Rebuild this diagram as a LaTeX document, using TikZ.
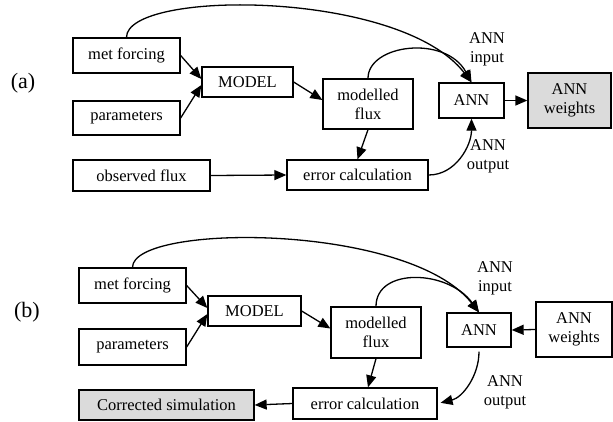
\documentclass[tikz,border=0pt]{standalone}
\usepackage{fontspec}
\setmainfont{Liberation Serif}
\usetikzlibrary{arrows.meta,calc}
\begin{document}
\begin{tikzpicture}[x=1pt,y=-1pt,
  box/.style={draw,line width=1.3pt,inner sep=0pt,align=center,font=\fontsize{16.5}{19}\selectfont},
  shaded/.style={box,fill=black!14},
  lbl/.style={inner sep=0pt,align=center,font=\fontsize{16.5}{19}\selectfont},
  panel/.style={inner sep=0pt,font=\fontsize{22}{24}\selectfont},
  conn/.style={line width=1.3pt,-{Triangle[length=12pt,width=10pt]}}]
\useasboundingbox (0,0) rectangle (613,421);
% ---------- panel (a)
\node[panel] (pa) at (23,83) {(a)};
\node[box,minimum width=107pt,minimum height=35pt] (mf1) at (126.5,55.5) {met forcing};
\node[box,minimum width=107pt,minimum height=34pt] (par1) at (126.5,118) {parameters};
\node[box,minimum width=91pt,minimum height=30pt] (mod1) at (247.5,82) {MODEL};
\node[box,minimum width=137pt,minimum height=31pt] (obs1) at (141.5,175.5) {observed flux};
\node[box,minimum width=141pt,minimum height=30pt] (err1) at (357.5,175) {error calculation};
\node[box,minimum width=90pt,minimum height=50pt] (flux1) at (368,104) {modelled\\flux};
\node[box,minimum width=65pt,minimum height=35pt] (ann1) at (471.5,100.5) {ANN};
\node[shaded,minimum width=83pt,minimum height=55pt] (w1) at (569.5,100.5) {ANN\\weights};
\node[lbl] (in1) at (487,49) {ANN\\input};
\node[lbl] (out1) at (488,156) {ANN\\output};
\draw[conn] (mf1.east) -- ($(mod1.west)+(0,-3)$);
\draw[conn] (par1.east) -- ($(mod1.west)+(0,3)$);
\draw[conn] (mod1.east) -- ($(flux1.west)+(0,-4)$);
\draw[conn] (flux1.south) -- (err1.north);
\draw[conn] (obs1.east) -- (err1.west);
\draw[conn] (ann1.east) -- (w1.west);
\draw[conn] (err1.east) .. controls +(27,0) and +(0,27) .. (ann1.south);
\draw[conn] (flux1.north) .. controls +(0,-34) and +(-26,-48) .. (ann1.north);
\draw[conn] (mf1.north) .. controls +(0,-48) and +(-71,-93) .. (ann1.north);
% ---------- panel (b)
\node[panel] (pb) at (27,312) {(b)};
\node[box,minimum width=107pt,minimum height=35pt] (mf2) at (132.5,285.5) {met forcing};
\node[box,minimum width=107pt,minimum height=36pt] (par2) at (132.5,347) {parameters};
\node[box,minimum width=93pt,minimum height=30pt] (mod2) at (254.5,311) {MODEL};
\node[shaded,minimum width=175pt,minimum height=30pt] (cs2) at (166.5,405) {Corrected simulation};
\node[box,minimum width=144pt,minimum height=31pt] (err2) at (365,403.5) {error calculation};
\node[box,minimum width=90pt,minimum height=51pt] (flux2) at (376,332.5) {modelled\\flux};
\node[box,minimum width=64pt,minimum height=34pt] (ann2) at (479,330) {ANN};
\node[box,minimum width=76pt,minimum height=55pt] (w2) at (574,329.5) {ANN\\weights};
\node[lbl] (in2) at (495,278) {ANN\\input};
\node[lbl] (out2) at (505,392) {ANN\\output};
\draw[conn] (mf2.east) -- ($(mod2.west)+(0,-3)$);
\draw[conn] (par2.east) -- ($(mod2.west)+(0,3)$);
\draw[conn] (mod2.east) -- ($(flux2.west)+(0,-4)$);
\draw[conn] (flux2.south) -- ($(err2.north)+(3,0)$);
\draw[conn] (err2.west) -- (cs2.east);
\draw[conn] (w2.west) -- (ann2.east);
\draw[conn,shorten <=4pt,shorten >=3pt] (ann2.south) .. controls +(0,28) and +(25,-6) .. (err2.east);
\draw[conn] (flux2.north) .. controls +(0,-39) and +(-31,-43) .. (ann2.north);
\draw[conn] (mf2.north) .. controls +(0,-44) and +(-71,-90) .. (ann2.north);
\end{tikzpicture}
\end{document}
